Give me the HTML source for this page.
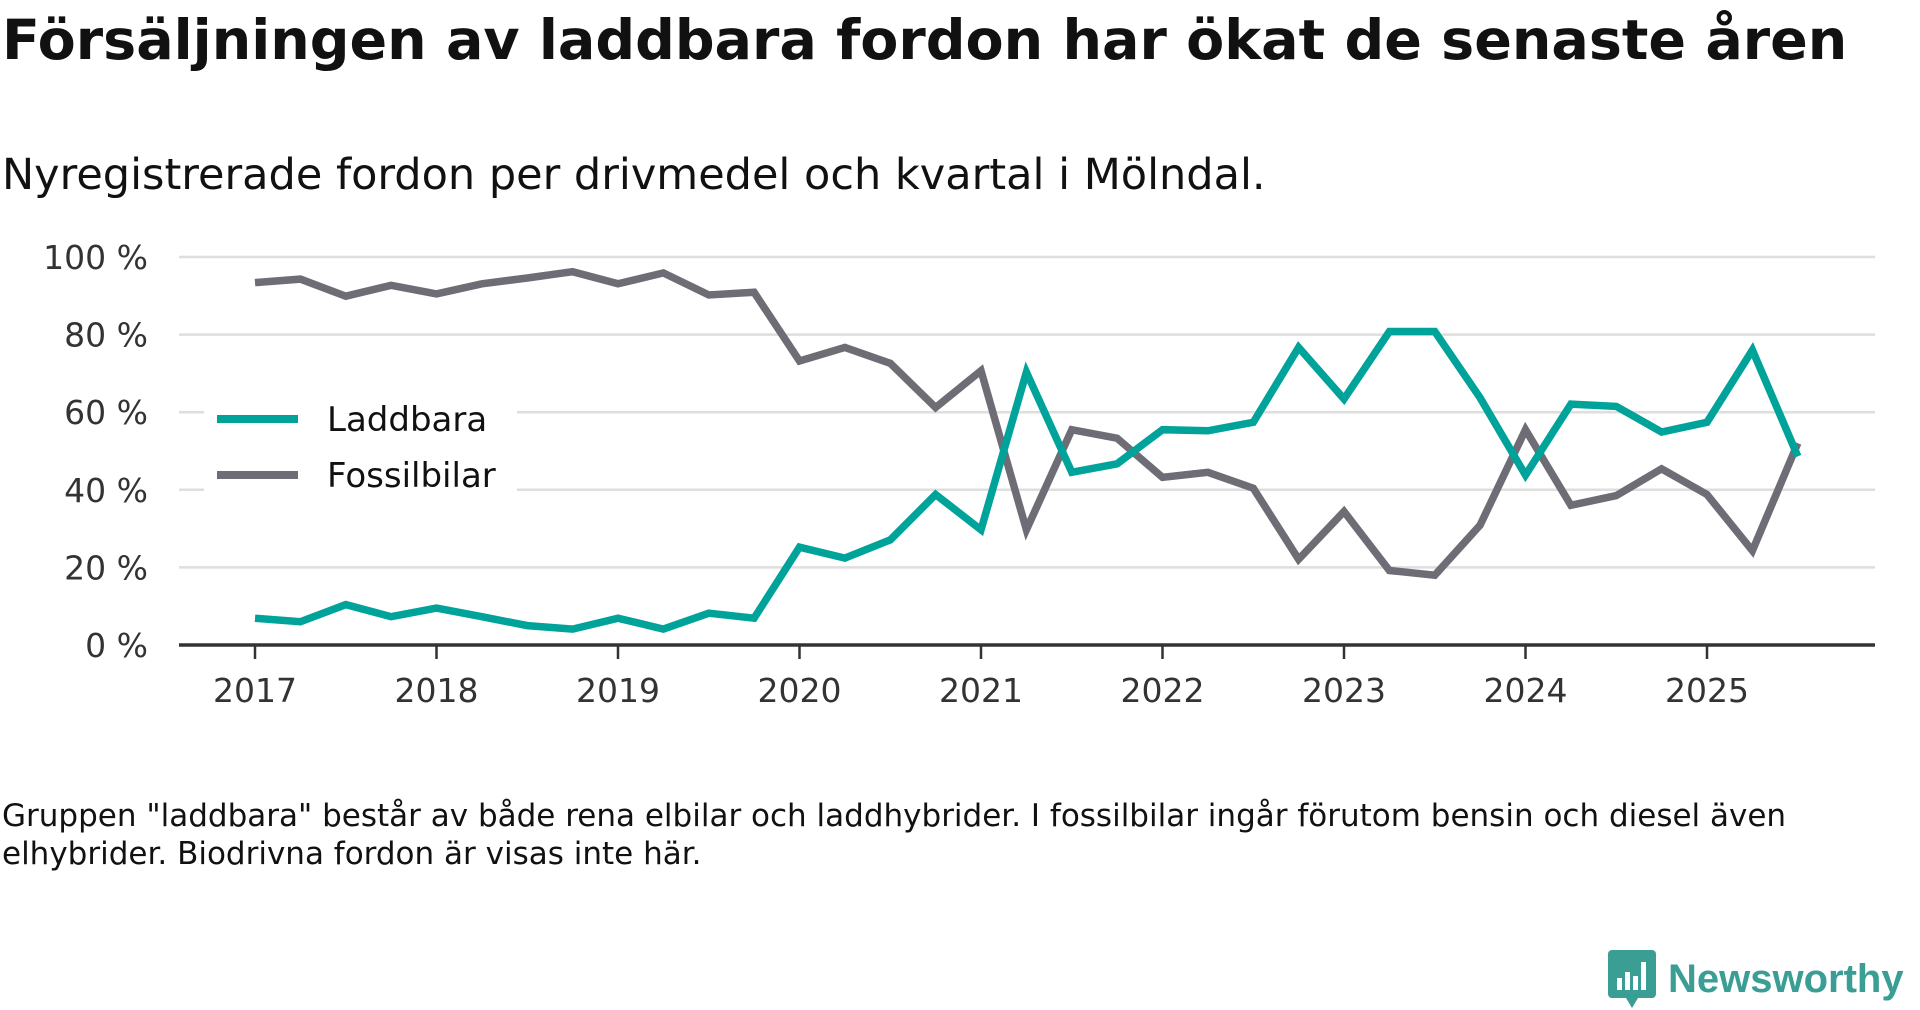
<!DOCTYPE html>
<html><head><meta charset="utf-8">
<style>
body{margin:0;width:1920px;height:1010px;background:#fff;font-family:"DejaVu Sans","Liberation Sans",sans-serif;overflow:hidden;position:relative}
#title{position:absolute;left:2px;top:8px;font-size:55.5px;font-weight:bold;color:#111;margin:0;white-space:nowrap}
#sub{position:absolute;left:2px;top:150px;font-size:43px;color:#111;white-space:nowrap}
#note{position:absolute;left:2px;top:797px;font-size:31px;line-height:38px;color:#111;width:1840px}
#logo{position:absolute;left:1608px;top:950px;display:flex;align-items:center}
#logo span{font-family:"Liberation Sans",sans-serif;font-size:40px;color:#3a9e95;font-weight:bold;margin-left:12px}
</style></head><body>
<h1 id="title">Försäljningen av laddbara fordon har ökat de senaste åren</h1>
<div id="sub">Nyregistrerade fordon per drivmedel och kvartal i Mölndal.</div>
<svg id="chart" width="1920" height="760" style="position:absolute;left:0;top:0"></svg>
<div id="note">Gruppen "laddbara" består av både rena elbilar och laddhybrider. I fossilbilar ingår förutom bensin och diesel även elhybrider. Biodrivna fordon är visas inte här.</div>
<div id="logo">
<svg width="48" height="58" viewBox="0 0 48 58"><path d="M4 0H44A4 4 0 0 1 48 4V44A4 4 0 0 1 44 48H30L24 58L18 48H4A4 4 0 0 1 0 44V4A4 4 0 0 1 4 0Z" fill="#3a9e95"/><rect x="9" y="28" width="5" height="12" fill="#fff"/><rect x="17" y="22" width="5" height="18" fill="#fff"/><rect x="25" y="26" width="5" height="14" fill="#fff"/><rect x="33" y="12" width="5" height="28" fill="#fff"/></svg>
<span>Newsworthy</span></div>
<script>
const years=[2017,2018,2019,2020,2021,2022,2023,2024,2025];
const yTicks=[0,20,40,60,80,100];
const laddbara=[6.9,6,10.4,7.3,9.5,7.3,5,4.1,6.9,4.1,8.2,6.9,25.2,22.4,27.1,38.8,29.7,70.3,44.5,46.7,55.5,55.2,57.4,76.7,63.4,80.8,80.8,63.7,43.8,62.1,61.5,54.9,57.4,76,48.6];
const fossil=[93.4,94.3,89.9,92.7,90.5,93.1,94.6,96.2,93.1,95.9,90.2,90.9,73.2,76.7,72.6,61.2,70.7,29.7,55.5,53.3,43.2,44.5,40.4,22.1,34.4,19.2,18,30.9,55.5,36,38.5,45.4,38.8,24.3,52];
const svg=document.getElementById('chart');const NS='http://www.w3.org/2000/svg';
const X0=255,X1=1707,Y0=645,Y1=257,L=179,R=1875;
const x=t=>X0+(t-2017)*(X1-X0)/8;
const y=v=>Y0-v*(Y0-Y1)/100;
function mk(tag,attrs,parent){const e=document.createElementNS(NS,tag);for(const k in attrs)e.setAttribute(k,attrs[k]);(parent||svg).appendChild(e);return e;}
yTicks.forEach(v=>{
 if(v>0){const g=mk('line',{x1:L,x2:R,y1:y(v),y2:y(v),stroke:'#dedede','stroke-width':2.5});
 
 }
 const t=mk('text',{x:148,y:y(v)+12,'text-anchor':'end','font-size':33,fill:'#333','font-family':'DejaVu Sans, Liberation Sans, sans-serif'});t.textContent=v+' %';
 
 
});
const ax=mk('line',{x1:L,x2:R,y1:Y0,y2:Y0,stroke:'#333','stroke-width':3.5});


years.forEach(yr=>{
 const tk=mk('line',{x1:x(yr),x2:x(yr),y1:Y0,y2:Y0+14,stroke:'#333','stroke-width':2.5});
 
 
 const t=mk('text',{x:x(yr),y:702,'text-anchor':'middle','font-size':33,fill:'#333','font-family':'DejaVu Sans, Liberation Sans, sans-serif'});t.textContent=yr;
 
 
});
const lg=mk('rect',{x:204,y:385,width:313,height:115,fill:'#fff'});


function series(d,c,name){const p=d.map((v,i)=>x(2017+i/4).toFixed(1)+','+y(v).toFixed(1)).join(' ');
 const e=mk('polyline',{points:p,fill:'none',stroke:c,'stroke-width':7.5,'stroke-linejoin':'miter','stroke-miterlimit':3});
 
 }
series(fossil,'#6e6d75','line-fossilbilar');
series(laddbara,'#00a39a','line-laddbara');
[['Laddbara','#00a39a',419],['Fossilbilar','#6e6d75',475]].forEach(([n,c,yy])=>{
 const l=mk('line',{x1:217,x2:298,y1:yy,y2:yy,stroke:c,'stroke-width':8});
 
 
 const t=mk('text',{x:327,y:yy+12,'font-size':34,fill:'#111','font-family':'DejaVu Sans, Liberation Sans, sans-serif'});t.textContent=n;
 
 
});
</script>
</body></html>
